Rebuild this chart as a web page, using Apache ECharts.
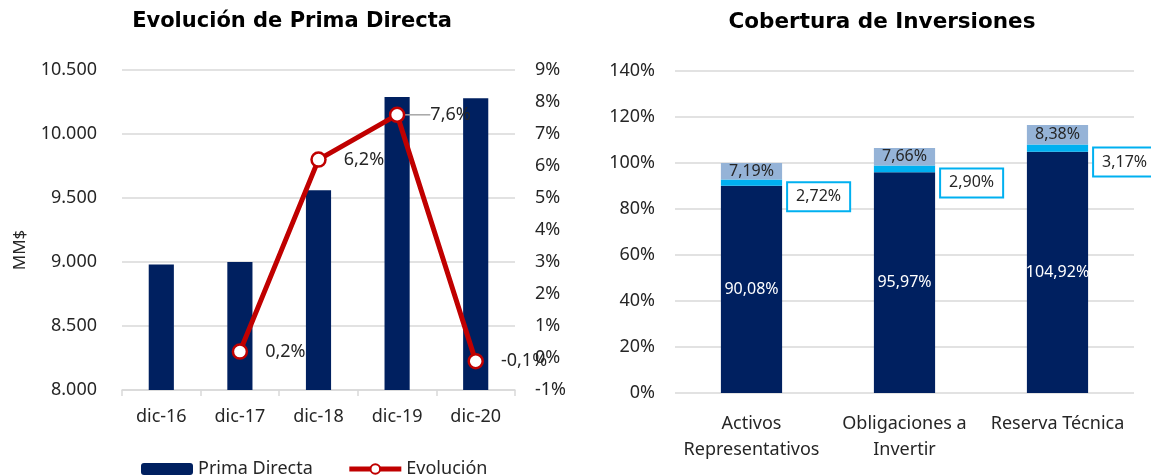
<!DOCTYPE html>
<html>
<head>
<meta charset="utf-8">
<script src="https://cdn.jsdelivr.net/npm/echarts@6/dist/echarts.min.js"></script>
<style>
  html, body { margin: 0; padding: 0; background: #fff; }
  #chart { width: 1151px; height: 476px; }
</style>
</head>
<body>
<div id="chart"></div>
<script>
// datos del grafico de prima directa
var anios = ['dic-16', 'dic-17', 'dic-18', 'dic-19', 'dic-20'];
var primaDirecta = [8980, 9000, 9560, 10290, 10280];
var evolucion = [null, 0.2, 6.2, 7.6, -0.1];

// datos del grafico de cobertura
var rubros = ['Activos\nRepresentativos', 'Obligaciones a\nInvertir', 'Reserva Técnica'];
var coberturaBase = [90.08, 95.97, 104.92];
var coberturaMedia = [2.72, 2.90, 3.17];
var coberturaSup = [7.19, 7.66, 8.38];

var fuente = 'Noto Sans';
var colorTexto = '#262626';
var colorGrid = '#d9d9d9';

function coma(v, d) {
  return v.toFixed(d).replace('.', ',');
}

// solo el punto de dic-19 lleva linea guia hacia su etiqueta
var evolucionData = evolucion.map(function (v, i) {
  if (i === 3) {
    return { value: v, labelLine: { show: true, lineStyle: { color: '#a6a6a6', width: 1.5 } } };
  }
  return v;
});

var chartDom = document.getElementById('chart');
var myChart = echarts.init(chartDom);
var option;

option = {
  backgroundColor: '#fff',
  animation: false,
  textStyle: { fontFamily: fuente },
  title: [
    {
      text: 'Evolución de Prima Directa',
      left: 287, top: 6, textAlign: 'center',
      textStyle: { fontFamily: 'DejaVu Sans', fontWeight: 'bold', fontSize: 21, color: '#000' }
    },
    {
      text: 'Cobertura de Inversiones',
      left: 877, top: 6, textAlign: 'center',
      textStyle: { fontFamily: 'DejaVu Sans', fontWeight: 'bold', fontSize: 21.5, color: '#000' }
    }
  ],
  legend: {
    left: 136,
    top: 455,
    itemWidth: 52,
    itemHeight: 12,
    itemGap: 34,
    data: [
      { name: 'Prima Directa' },
      { name: 'Evolución', lineStyle: { width: 5, color: '#c00000' } }
    ],
    textStyle: { fontFamily: fuente, fontSize: 18, color: colorTexto }
  },
  grid: [
    { left: 122, right: 636, top: 70, bottom: 86 },
    { left: 675, right: 17, top: 71, bottom: 83 }
  ],
  xAxis: [
    {
      type: 'category',
      gridIndex: 0,
      data: anios,
      axisLine: { onZero: false, lineStyle: { color: colorGrid, width: 1.5 } },
      axisTick: { show: true, length: 6, lineStyle: { color: colorGrid, width: 1.5 } },
      axisLabel: { fontSize: 18, color: colorTexto, margin: 18, fontFamily: fuente }
    },
    {
      type: 'category',
      gridIndex: 1,
      data: rubros,
      axisLine: { show: false },
      axisTick: { show: false },
      axisLabel: { interval: 0, fontSize: 18, color: colorTexto, margin: 18, lineHeight: 26, fontFamily: fuente, verticalAlign: 'top' }
    }
  ],
  yAxis: [
    {
      type: 'value',
      gridIndex: 0,
      min: 8000, max: 10500, interval: 500,
      name: 'MM$',
      nameLocation: 'middle',
      nameGap: 93,
      nameTextStyle: { fontSize: 17, color: colorTexto, fontFamily: fuente, padding: [0, 40, 0, 0] },
      axisLine: { show: false },
      axisTick: { show: false },
      splitLine: { lineStyle: { color: colorGrid, width: 1.5 } },
      axisLabel: {
        fontSize: 18, color: colorTexto, margin: 25,
        formatter: function (v) { return v.toString().replace(/\B(?=(\d{3})+(?!\d))/g, '.'); }
      }
    },
    {
      type: 'value',
      gridIndex: 0,
      position: 'right',
      min: -1, max: 9, interval: 1,
      axisLine: { show: false },
      axisTick: { show: false },
      splitLine: { show: false },
      axisLabel: { fontSize: 18, color: colorTexto, margin: 20, formatter: '{value}%' }
    },
    {
      type: 'value',
      gridIndex: 1,
      min: 0, max: 140, interval: 20,
      axisLine: { show: false },
      axisTick: { show: false },
      splitLine: { lineStyle: { color: colorGrid, width: 1.5 } },
      axisLabel: { fontSize: 18, color: colorTexto, margin: 20, formatter: '{value}%' }
    }
  ],
  series: [
    {
      name: 'Prima Directa',
      type: 'bar',
      xAxisIndex: 0, yAxisIndex: 0,
      barWidth: '32%',
      data: primaDirecta,
      itemStyle: { color: '#002060' }
    },
    {
      name: 'Evolución',
      type: 'line',
      xAxisIndex: 0, yAxisIndex: 1,
      data: evolucionData,
      symbol: 'circle',
      symbolSize: 14,
      lineStyle: { color: '#c00000', width: 5 },
      itemStyle: { color: '#fff', borderColor: '#c00000', borderWidth: 2.5 },
      label: {
        show: true,
        position: 'right',
        distance: 17,
        fontSize: 18,
        color: colorTexto,
        formatter: function (p) { return coma(p.value, 1) + '%'; }
      },
      labelLayout: function (p) {
        return p.dataIndex === 3 ? { dx: 8 } : {};
      },
      z: 5
    },
    {
      name: 'Base',
      type: 'bar',
      xAxisIndex: 1, yAxisIndex: 2,
      stack: 'cob',
      barWidth: '40%',
      data: coberturaBase,
      itemStyle: { color: '#002060' },
      label: {
        show: true, position: 'inside', fontSize: 16, color: '#fff',
        formatter: function (p) { return coma(p.value, 2) + '%'; }
      }
    },
    {
      name: 'Media',
      type: 'bar',
      xAxisIndex: 1, yAxisIndex: 2,
      stack: 'cob',
      data: coberturaMedia,
      itemStyle: { color: '#00b0f0' },
      label: {
        show: true, position: 'right', distance: 6, offset: [0, 14],
        fontSize: 16, color: colorTexto,
        backgroundColor: '#fff', borderColor: '#00b0f0', borderWidth: 2,
        padding: [6, 8, 5, 8],
        formatter: function (p) { return coma(p.value, 2) + '%'; }
      }
    },
    {
      name: 'Superior',
      type: 'bar',
      xAxisIndex: 1, yAxisIndex: 2,
      stack: 'cob',
      data: coberturaSup,
      itemStyle: { color: '#95b3d7' },
      label: {
        show: true, position: 'inside', fontSize: 16, color: colorTexto,
        formatter: function (p) { return coma(p.value, 2) + '%'; }
      }
    }
  ]
};

option && myChart.setOption(option);
</script>
</body>
</html>
